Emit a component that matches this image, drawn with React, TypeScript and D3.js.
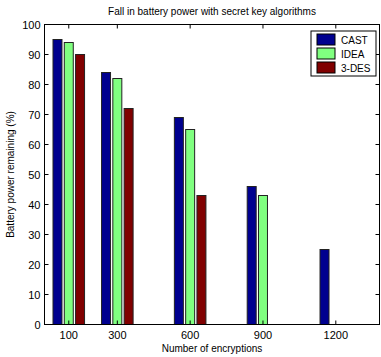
import React from "react";
import * as d3 from "d3";

const encryptions = [100, 300, 600, 900, 1200];
const algorithms = ["CAST", "IDEA", "3-DES"];
const castValues = [95, 84, 69, 46, 25];
const ideaValues = [94, 82, 65, 43, 0];
const desValues = [90, 72, 43, 0, 0];
const yTicks = [0, 10, 20, 30, 40, 50, 60, 70, 80, 90, 100];
const colors = ["#00008f", "#80ff80", "#800000"];

export default function App() {
  const width = 381;
  const height = 357;
  const left = 44.5;
  const right = 379.5;
  const top = 24.5;
  const bottom = 324.5;

  const x = d3.scaleLinear().domain([0, 1380]).range([left, right]);
  const y = d3.scaleLinear().domain([0, 100]).range([bottom, top]);

  // MATLAB style group offsets, in x data units
  const offset = d3.scaleLinear().domain([0, 2]).range([-46.5, 46.5]);
  const barW = 37 * (x(1) - x(0));

  const series = [castValues, ideaValues, desValues];
  const font = "Liberation Sans, Arial, sans-serif";

  return (
    <svg
      width={width}
      height={height}
      style={{ position: "absolute", left: 0, top: 0, background: "#fff" }}
      fontFamily={font}
    >
      <rect x={0} y={0} width={width} height={height} fill="#fff" />
      <text x={(left + right) / 2} y={15} textAnchor="middle" fontSize={10}>
        Fall in battery power with secret key algorithms
      </text>

      {series.map((vals, si) =>
        vals.map((v, i) =>
          v > 0 ? (
            <rect
              key={si + "-" + i}
              x={x(encryptions[i] + offset(si)) - barW / 2}
              y={y(v)}
              width={barW}
              height={y(0) - y(v)}
              fill={colors[si]}
              stroke="#222"
              strokeWidth={1}
            />
          ) : null
        )
      )}

      <rect
        x={left}
        y={top}
        width={right - left}
        height={bottom - top}
        fill="none"
        stroke="#000"
        strokeWidth={1}
      />

      {yTicks.map((t) => (
        <g key={"y" + t}>
          <line x1={left} x2={left + 4} y1={y(t)} y2={y(t)} stroke="#000" />
          <line x1={right - 4} x2={right} y1={y(t)} y2={y(t)} stroke="#000" />
          <text x={left - 4} y={y(t) + 4} textAnchor="end" fontSize={11}>
            {t}
          </text>
        </g>
      ))}

      {encryptions.map((t) => (
        <g key={"x" + t}>
          <line x1={x(t)} x2={x(t)} y1={bottom} y2={bottom - 4} stroke="#000" />
          <line x1={x(t)} x2={x(t)} y1={top} y2={top + 4} stroke="#000" />
          <text x={x(t)} y={bottom + 14} textAnchor="middle" fontSize={11}>
            {t}
          </text>
        </g>
      ))}

      <text x={(left + right) / 2} y={352} textAnchor="middle" fontSize={10}>
        Number of encryptions
      </text>
      <text
        transform={`translate(14, ${(top + bottom) / 2}) rotate(-90)`}
        textAnchor="middle"
        fontSize={10}
      >
        Battery power remaining (%)
      </text>

      {/* Legend */}
      <g transform="translate(311, 31)">
        <rect x={0} y={0} width={65} height={45} fill="#fff" stroke="#000" />
        {algorithms.map((a, i) => (
          <g key={a} transform={`translate(0, ${3 + i * 14})`}>
            <rect x={6} y={0} width={18} height={11} fill={colors[i]} stroke="#000" />
            <text x={30} y={9.5} fontSize={10}>
              {a}
            </text>
          </g>
        ))}
      </g>
    </svg>
  );
}
